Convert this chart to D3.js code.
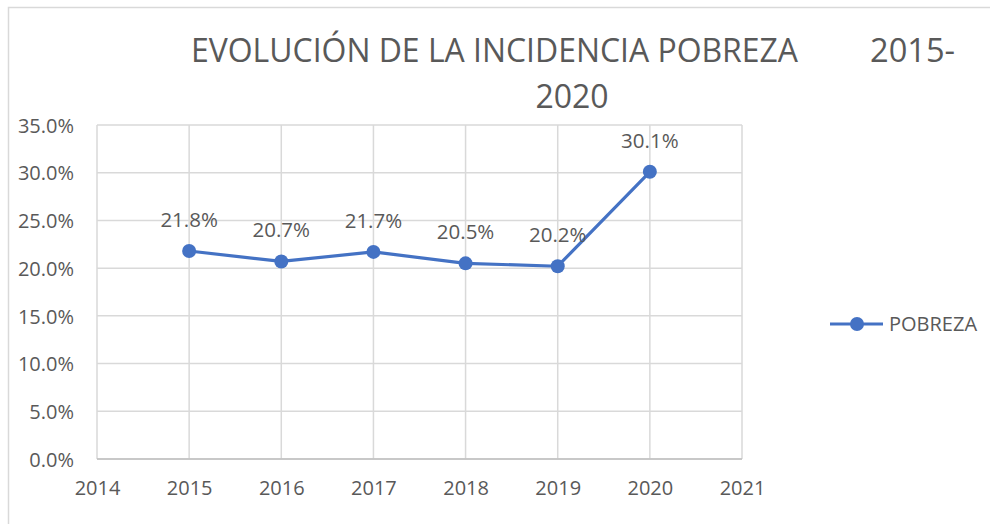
<!DOCTYPE html>
<html>
<head>
<meta charset="utf-8">
<script src="https://cdn.jsdelivr.net/npm/d3@7"></script>
<style>
  body { margin: 0; background: #fff; }
  svg { display: block; font-family: "Open Sans", "Noto Sans", sans-serif; }
</style>
</head>
<body>
<div id="chart"></div>
<script>
// data
var years = [2015, 2016, 2017, 2018, 2019, 2020];
var pobreza = [0.218, 0.207, 0.217, 0.205, 0.202, 0.301];
var xTicks = [2014, 2015, 2016, 2017, 2018, 2019, 2020, 2021];
var yTicks = [0, 0.05, 0.10, 0.15, 0.20, 0.25, 0.30, 0.35];
var seriesName = 'POBREZA';
var titleLine1 = 'EVOLUCIÓN DE LA INCIDENCIA POBREZA';
var titleLine1b = '2015-';
var titleLine2 = '2020';

var g = {id: 'chart', fullWidth: 990, fullHeight: 524};
g.margin = {top: 125, right: 248, bottom: 65, left: 97};
g.width = g.fullWidth - g.margin.left - g.margin.right;
g.height = g.fullHeight - g.margin.top - g.margin.bottom;

var blue = '#4472C4';
var textCol = '#595959';
var gridCol = '#d9d9d9';

var svg0 = d3.select('#' + g.id)
  .append('svg')
    .attr('width', g.fullWidth)
    .attr('height', g.fullHeight);

// chart area border (only left and top are visible in the picture)
svg0.append('rect')
  .attr('x', 8.5)
  .attr('y', 7.5)
  .attr('width', 1100)
  .attr('height', 600)
  .attr('fill', 'none')
  .attr('stroke', gridCol)
  .attr('stroke-width', 1.5);

// title
svg0.append('text')
  .attr('x', 191)
  .attr('y', 62)
  .attr('font-size', 32)
  .attr('fill', textCol)
  .attr('textLength', 607)
  .attr('lengthAdjust', 'spacingAndGlyphs')
  .text(titleLine1);

svg0.append('text')
  .attr('x', 870)
  .attr('y', 62)
  .attr('font-size', 32)
  .attr('fill', textCol)
  .attr('textLength', 85)
  .attr('lengthAdjust', 'spacingAndGlyphs')
  .text(titleLine1b);

svg0.append('text')
  .attr('x', 572)
  .attr('y', 108)
  .attr('font-size', 32)
  .attr('text-anchor', 'middle')
  .attr('fill', textCol)
  .text(titleLine2);

var svg = svg0.append('g')
  .attr('transform', 'translate(' + g.margin.left + ',' + g.margin.top + ')');

// Set the ranges
g.x = d3.scaleLinear().range([0, g.width]).domain([2014, 2021]);
g.y = d3.scaleLinear().range([g.height, 0]).domain([0, 0.35]);

// grid lines
svg.append('g')
  .selectAll('line').data(yTicks)
  .enter().append('line')
    .attr('x1', 0)
    .attr('x2', g.width)
    .attr('y1', function(d) { return g.y(d); })
    .attr('y2', function(d) { return g.y(d); })
    .attr('stroke', gridCol)
    .attr('stroke-width', 1.5);

svg.append('g')
  .selectAll('line').data(xTicks)
  .enter().append('line')
    .attr('x1', function(d) { return g.x(d); })
    .attr('x2', function(d) { return g.x(d); })
    .attr('y1', 0)
    .attr('y2', g.height)
    .attr('stroke', gridCol)
    .attr('stroke-width', 1.5);

// bottom axis line
svg.append('line')
  .attr('x1', 0)
  .attr('x2', g.width)
  .attr('y1', g.height)
  .attr('y2', g.height)
  .attr('stroke', '#bfbfbf')
  .attr('stroke-width', 1.5);

// axes
g.xAxis = d3.axisBottom().scale(g.x).tickValues(xTicks)
  .tickFormat(d3.format('d')).tickSize(0).tickPadding(22);
g.yAxis = d3.axisLeft().scale(g.y).tickValues(yTicks)
  .tickFormat(d3.format('.1%')).tickSize(0).tickPadding(23);

var xa = svg.append('g')
  .attr('class', 'x axis')
  .attr('transform', 'translate(0,' + g.height + ')')
  .call(g.xAxis);
var ya = svg.append('g')
  .attr('class', 'y axis')
  .call(g.yAxis);

[xa, ya].forEach(function(a) {
  a.select('.domain').remove();
  a.selectAll('text')
    .attr('font-size', 20)
    .attr('font-family', '"Open Sans", sans-serif')
    .attr('fill', textCol);
});
ya.selectAll('text').attr('dy', '0.36em');

// the line
g.valueline = d3.line()
  .x(function(d, i) { return g.x(years[i]); })
  .y(function(d) { return g.y(d); });

svg.append('path')
  .attr('d', g.valueline(pobreza))
  .attr('fill', 'none')
  .attr('stroke', blue)
  .attr('stroke-width', 3.2)
  .attr('stroke-linejoin', 'round');

svg.append('g')
  .selectAll('circle').data(pobreza)
  .enter().append('circle')
    .attr('cx', function(d, i) { return g.x(years[i]); })
    .attr('cy', function(d) { return g.y(d); })
    .attr('r', 7)
    .attr('fill', blue);

// data labels
svg.append('g')
  .selectAll('text').data(pobreza)
  .enter().append('text')
    .attr('x', function(d, i) { return g.x(years[i]); })
    .attr('y', function(d) { return g.y(d) - 24; })
    .attr('text-anchor', 'middle')
    .attr('font-size', 20.5)
    .attr('fill', textCol)
    .text(function(d) { return d3.format('.1%')(d); });

// legend
var lg = svg0.append('g').attr('transform', 'translate(830,324)');
lg.append('line')
  .attr('x1', 0).attr('x2', 53)
  .attr('y1', 0).attr('y2', 0)
  .attr('stroke', blue)
  .attr('stroke-width', 3.2);
lg.append('circle')
  .attr('cx', 27).attr('cy', 0).attr('r', 7)
  .attr('fill', blue);
lg.append('text')
  .attr('x', 59)
  .attr('y', 0)
  .attr('dy', '0.36em')
  .attr('font-size', 20)
  .attr('fill', textCol)
  .text(seriesName);
</script>
</body>
</html>
